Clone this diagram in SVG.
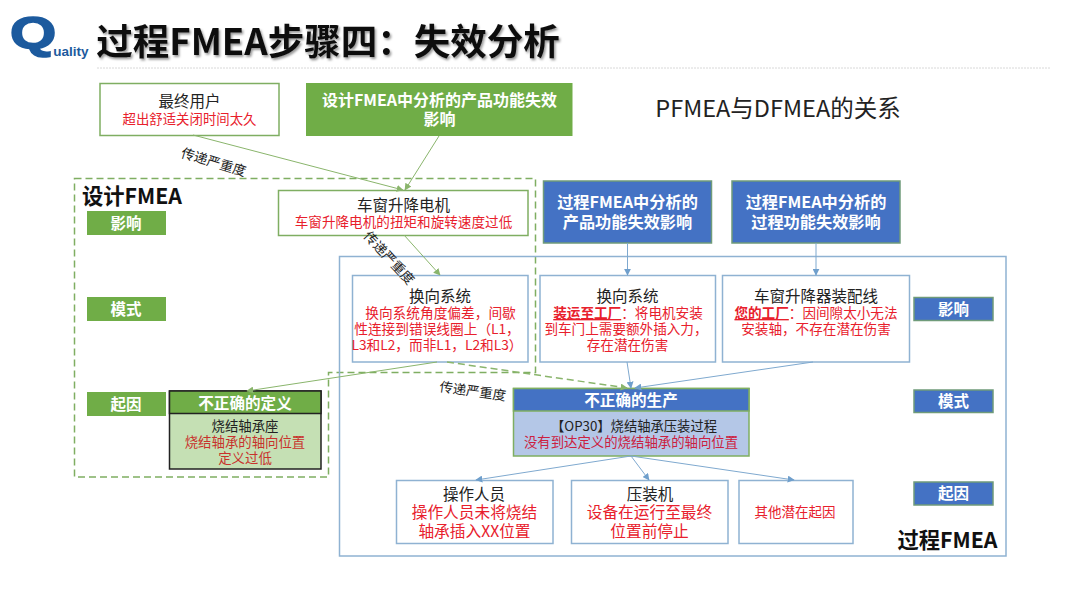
<svg xmlns="http://www.w3.org/2000/svg" width="1080" height="608" viewBox="0 0 1080 608">
<style>
text{font-family:"Noto Sans CJK SC","Noto Sans",sans-serif;text-anchor:middle;dominant-baseline:central}
.g{fill:#70ad47}.gs{fill:#fff;stroke:#7fae62;stroke-width:1.5}
.b{fill:#4472c4;stroke:#6f9b7a;stroke-width:1.5}.bs{fill:#fff;stroke:#8fb2d2;stroke-width:1.5}
.k{fill:#222}.r{fill:#e8202c}.w{fill:#fff;font-weight:700}
.cg{stroke:#8ab56c;stroke-width:1;fill:none}.cb{stroke:#7fa9cf;stroke-width:1;fill:none}
.lbl{fill:#222;font-size:13.4px}
</style>
<defs>
<marker id="ag" viewBox="0 0 10 10" refX="9" refY="5" markerWidth="7" markerHeight="7" orient="auto-start-reverse" markerUnits="userSpaceOnUse"><path d="M0 0L10 5L0 10z" fill="#8ab56c"/></marker>
<marker id="ab" viewBox="0 0 10 10" refX="9" refY="5" markerWidth="7" markerHeight="7" orient="auto-start-reverse" markerUnits="userSpaceOnUse"><path d="M0 0L10 5L0 10z" fill="#6f9fcc"/></marker>
<filter id="sh" x="-5%" y="-20%" width="110%" height="150%"><feDropShadow dx="1.5" dy="2" stdDeviation="1.2" flood-color="#000" flood-opacity=".4"/></filter>
</defs>

<g id="header">
<text transform="translate(33 33) scale(1.35 1)" style="font-family:'Liberation Sans',sans-serif;font-weight:700;font-size:44px" fill="#1c5a9e" stroke="#1c5a9e" stroke-width="1.6">Q</text>
<text x="71" y="51" style="font-family:'Liberation Sans',sans-serif;font-weight:700;font-size:13.500px" fill="#1c5a9e">uality</text>
<text x="328" y="39" filter="url(#sh)" style="font-weight:700;font-size:36.500px" fill="#111">过程FMEA步骤四：失效分析</text>
<line x1="97" y1="68" x2="1050" y2="68" stroke="#d8d8d8" stroke-width="1" stroke-dasharray="2 1"/>
<text x="778" y="107" style="font-size:23.500px" fill="#222">PFMEA与DFMEA的关系</text>
</g>

<g id="frames">
<path id="design-frame" d="M74.500 178.500H535.500V372.500H328.500V477H74.500Z" fill="none" stroke="#7fae62" stroke-width="1.500" stroke-dasharray="7 4"/>
<rect id="process-frame" x="339.500" y="256.500" width="666.500" height="299.500" fill="none" stroke="#8fb2d2" stroke-width="1.500"/>
<text x="132" y="194" style="font-weight:700;font-size:21.300px" fill="#111">设计FMEA</text>
<text x="947.500" y="538" style="font-weight:700;font-size:21.300px" fill="#111">过程FMEA</text>
</g>

<g id="end-user"><rect class="gs" x="100" y="83.500" width="179" height="52"/>
<text class="k" x="189.500" y="100" font-size="15.500">最终用户</text>
<text class="r" x="189.500" y="118" font-size="13.400">超出舒适关闭时间太久</text></g>

<g id="design-effect"><rect class="g" x="306" y="83" width="266.500" height="53"/>
<text class="w" x="439.500" y="99" font-size="16">设计FMEA中分析的产品功能失效</text>
<text class="w" x="439.500" y="118" font-size="16">影响</text></g>

<g id="motor"><rect class="gs" x="278.500" y="190.500" width="249.500" height="45"/>
<text class="k" x="403.500" y="204" font-size="15.500">车窗升降电机</text>
<text class="r" x="403.500" y="221" font-size="13.600">车窗升降电机的扭矩和旋转速度过低</text></g>

<g id="g-effect"><rect class="g" x="87" y="211" width="79" height="24"/><text class="w" x="126" y="222" font-size="15.500">影响</text></g>
<g id="g-mode"><rect class="g" x="87" y="297" width="79" height="24"/><text class="w" x="126" y="308" font-size="15.500">模式</text></g>
<g id="g-cause"><rect class="g" x="87" y="392" width="79" height="24"/><text class="w" x="126" y="403" font-size="15.500">起因</text></g>

<g id="wrong-definition">
<rect x="169.500" y="391" width="151.500" height="78" fill="#c5e0b4" stroke="#222" stroke-width="1.500"/>
<rect x="169.500" y="391" width="151.500" height="22.500" fill="#70ad47" stroke="#222" stroke-width="1.500"/>
<text class="w" x="245" y="401.500" font-size="15.600">不正确的定义</text>
<text class="k" x="245" y="424.500" font-size="13.400">烧结轴承座</text>
<text x="245" y="441" font-size="13.400" fill="#c8322c">烧结轴承的轴向位置</text>
<text x="245" y="457" font-size="13.400" fill="#c8322c">定义过低</text></g>

<g id="process-product-effect"><rect class="b" x="543.500" y="181" width="168" height="62"/>
<text class="w" x="627.500" y="201" font-size="16.200">过程FMEA中分析的</text>
<text class="w" x="627.500" y="220.500" font-size="16.200">产品功能失效影响</text></g>

<g id="process-function-effect"><rect class="b" x="732" y="181" width="168" height="62"/>
<text class="w" x="816" y="201" font-size="16.200">过程FMEA中分析的</text>
<text class="w" x="816" y="220.500" font-size="16.200">过程功能失效影响</text></g>

<g id="commutation-design"><rect class="bs" x="352.500" y="275.500" width="175.500" height="86.500"/>
<text class="k" x="440" y="294.500" font-size="15.500">换向系统</text>
<text class="r" x="440.500" y="312" font-size="13.700">换向系统角度偏差，间歇</text>
<text class="r" x="437" y="328" font-size="13.700">性连接到错误线圈上（L1，</text>
<text class="r" x="437" y="344" font-size="13.700">L3和L2，而非L1，L2和L3）</text></g>

<g id="commutation-process"><rect class="bs" x="540" y="275.500" width="175.500" height="86.500"/>
<text class="k" x="627.500" y="294.500" font-size="15.500">换向系统</text>
<text class="r" x="628" y="312" font-size="13.600"><tspan font-weight="700" text-decoration="underline">装运至工厂</tspan>：将电机安装</text>
<text class="r" x="626" y="328" font-size="13.600">到车门上需要额外插入力，</text>
<text class="r" x="627.500" y="344" font-size="13.600">存在潜在伤害</text></g>

<g id="assembly-line"><rect class="bs" x="722.500" y="275.500" width="187" height="86.500"/>
<text class="k" x="816" y="294.500" font-size="15.500">车窗升降器装配线</text>
<text class="r" x="816" y="312" font-size="13.600"><tspan font-weight="700" text-decoration="underline">您的工厂</tspan>：因间隙太小无法</text>
<text class="r" x="816" y="328" font-size="13.600">安装轴，不存在潜在伤害</text></g>

<g id="b-effect"><rect class="b" x="914" y="297.500" width="79" height="23"/><text class="w" x="953.500" y="308" font-size="15.500">影响</text></g>
<g id="b-mode"><rect class="b" x="914" y="390" width="79" height="22.500"/><text class="w" x="953.500" y="400" font-size="15.500">模式</text></g>
<g id="b-cause"><rect class="b" x="914" y="482" width="79" height="23"/><text class="w" x="953.500" y="492" font-size="15.500">起因</text></g>

<g id="wrong-production">
<rect x="513.500" y="388.500" width="235.500" height="67.500" fill="#b4c7e7" stroke="#7fae62" stroke-width="1.500"/>
<rect x="513.500" y="388.500" width="235.500" height="22.500" fill="#4472c4" stroke="#7fae62" stroke-width="1.500"/>
<text class="w" x="631" y="399" font-size="15.600">不正确的生产</text>
<text class="k" x="634" y="425" font-size="13.300">【OP30】烧结轴承压装过程</text>
<text x="631" y="441" font-size="13.400" fill="#cc2040">没有到达定义的烧结轴承的轴向位置</text></g>

<g id="operator"><rect class="bs" x="396.500" y="480.500" width="156.500" height="63"/>
<text class="k" x="474" y="492.500" font-size="15.500">操作人员</text>
<text class="r" x="474.500" y="511" font-size="15.700">操作人员未将烧结</text>
<text class="r" x="474.500" y="530" font-size="15.700">轴承插入XX位置</text></g>

<g id="press"><rect class="bs" x="571.500" y="480.500" width="156.500" height="63"/>
<text class="k" x="650" y="492.500" font-size="15.500">压装机</text>
<text class="r" x="649.500" y="511" font-size="15.700">设备在运行至最终</text>
<text class="r" x="649.500" y="530" font-size="15.700">位置前停止</text></g>

<g id="other"><rect class="bs" x="739" y="480.500" width="114" height="63"/>
<text class="r" x="795" y="510.500" font-size="13.500">其他潜在起因</text></g>

<g id="connectors">
<line class="cg" x1="193" y1="135" x2="403" y2="190" marker-end="url(#ag)"/>
<line class="cg" x1="439" y1="136" x2="405" y2="190" marker-end="url(#ag)"/>
<line class="cg" x1="404" y1="235" x2="440" y2="275" marker-end="url(#ag)"/>
<line class="cg" x1="437" y1="362" x2="247" y2="391" marker-end="url(#ag)"/>
<line class="cg" x1="447" y1="362" x2="627" y2="388" stroke-dasharray="7 4" marker-end="url(#ag)" style="stroke-width:1.500"/>
<line class="cb" x1="627.500" y1="243" x2="627.500" y2="275" marker-end="url(#ab)"/>
<line class="cb" x1="816" y1="243" x2="816" y2="275" marker-end="url(#ab)"/>
<line class="cb" x1="627" y1="362" x2="631" y2="388" marker-end="url(#ab)"/>
<line class="cb" x1="813" y1="362" x2="635" y2="388" marker-end="url(#ab)"/>
<line class="cb" x1="631" y1="456" x2="476" y2="480" marker-end="url(#ab)"/>
<line class="cb" x1="631" y1="456" x2="649" y2="480" marker-end="url(#ab)"/>
<line class="cb" x1="631" y1="456" x2="794" y2="480" marker-end="url(#ab)"/>
<text class="lbl" transform="translate(214 161) rotate(17)">传递严重度</text>
<text class="lbl" transform="translate(390 257) rotate(47)">传递严重度</text>
<text class="lbl" transform="translate(473 390) rotate(8)">传递严重度</text>
</g>
</svg>
